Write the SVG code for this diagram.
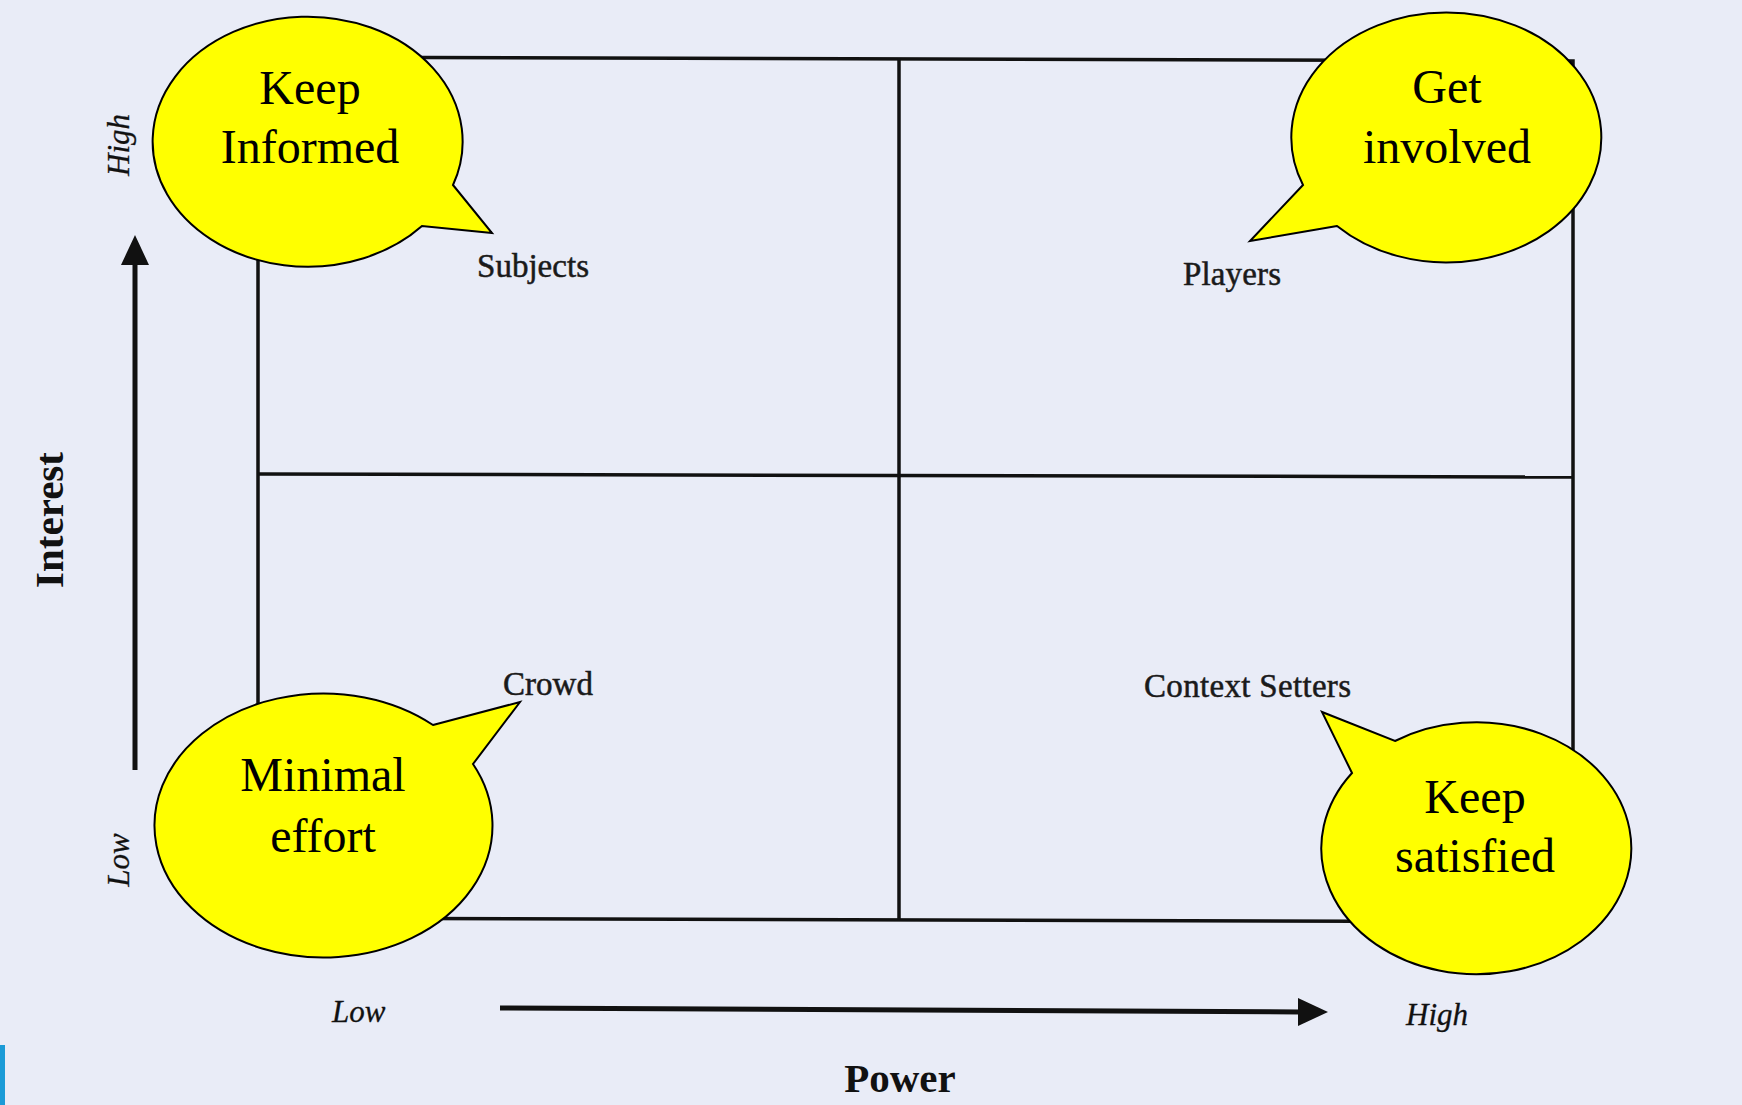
<svg xmlns="http://www.w3.org/2000/svg" width="1742" height="1105" viewBox="0 0 1742 1105">
<style>
.grid{stroke:#111;stroke-width:3.5;fill:none}
.bubble{fill:#ffff00;stroke:#000;stroke-width:2}
.bt{font-family:"Liberation Serif",serif;font-size:48px;fill:#000;text-anchor:middle}
.ql{font-family:"Liberation Serif",serif;font-size:33px;fill:#1a1a1a;stroke:#1a1a1a;stroke-width:0.5}
.ax{font-family:"Liberation Serif",serif;font-size:31px;font-style:italic;fill:#111;stroke:#111;stroke-width:0.3}
.at{font-family:"Liberation Serif",serif;font-size:41px;font-weight:bold;fill:#111}
.arr{stroke:#111;stroke-width:5;fill:none}
</style>
<rect x="0" y="0" width="1742" height="1105" fill="#e9ecf7"/>
<rect x="0" y="1045" width="5" height="60" fill="#1b9bd7"/>
<g id="grid">
<path class="grid" d="M258,57 L1573,61 L1573,922 L258,918 Z"/>
<path class="grid" d="M899,58 L899,920"/>
<path class="grid" d="M258,474 L1573,477"/>
</g>
<g id="quadrant-subjects"><text class="ql" x="477" y="277" textLength="112">Subjects</text></g>
<g id="quadrant-players"><text class="ql" x="1183" y="285" textLength="98">Players</text></g>
<g id="quadrant-crowd"><text class="ql" x="503" y="695" textLength="90">Crowd</text></g>
<g id="quadrant-context-setters"><text class="ql" x="1144" y="697" textLength="207">Context Setters</text></g>
<g id="connectors">
<line class="arr" x1="135" y1="770" x2="135" y2="262"/>
<polygon points="135,235 121,265 149,265" fill="#111"/>
<line class="arr" x1="500" y1="1008" x2="1300" y2="1012"/>
<polygon points="1328,1012 1298,998 1298,1026" fill="#111"/>
</g>
<g id="axis-labels">
<text class="at" transform="translate(63,520) rotate(-90)" text-anchor="middle">Interest</text>
<text class="ax" transform="translate(129,145) rotate(-90)" text-anchor="middle">High</text>
<text class="ax" transform="translate(129,860) rotate(-90)" text-anchor="middle">Low</text>
<text class="ax" x="332" y="1022">Low</text>
<text class="ax" x="1406" y="1025">High</text>
<text class="at" x="900" y="1092" text-anchor="middle">Power</text>
</g>
<g id="bubble-keep-informed">
<path class="bubble" d="M453,185 L492,233 L422,226 A155,125 0 1 1 453,185 Z"/>
<text class="bt" x="310" y="104">Keep</text>
<text class="bt" x="310" y="163">Informed</text>
</g>
<g id="bubble-get-involved">
<path class="bubble" d="M1337,226 L1250,241 L1303,185 A155,125 0 1 1 1337,226 Z"/>
<text class="bt" x="1447" y="103">Get</text>
<text class="bt" x="1447" y="163">involved</text>
</g>
<g id="bubble-minimal-effort">
<path class="bubble" d="M433,725 L520,702 L473,764 A169,132 0 1 1 433,725 Z"/>
<text class="bt" x="323" y="791">Minimal</text>
<text class="bt" x="323" y="852">effort</text>
</g>
<g id="bubble-keep-satisfied">
<path class="bubble" d="M1352,773 L1322,712 L1395,741 A155,126 0 1 1 1352,773 Z"/>
<text class="bt" x="1475" y="813">Keep</text>
<text class="bt" x="1475" y="872">satisfied</text>
</g>
</svg>
